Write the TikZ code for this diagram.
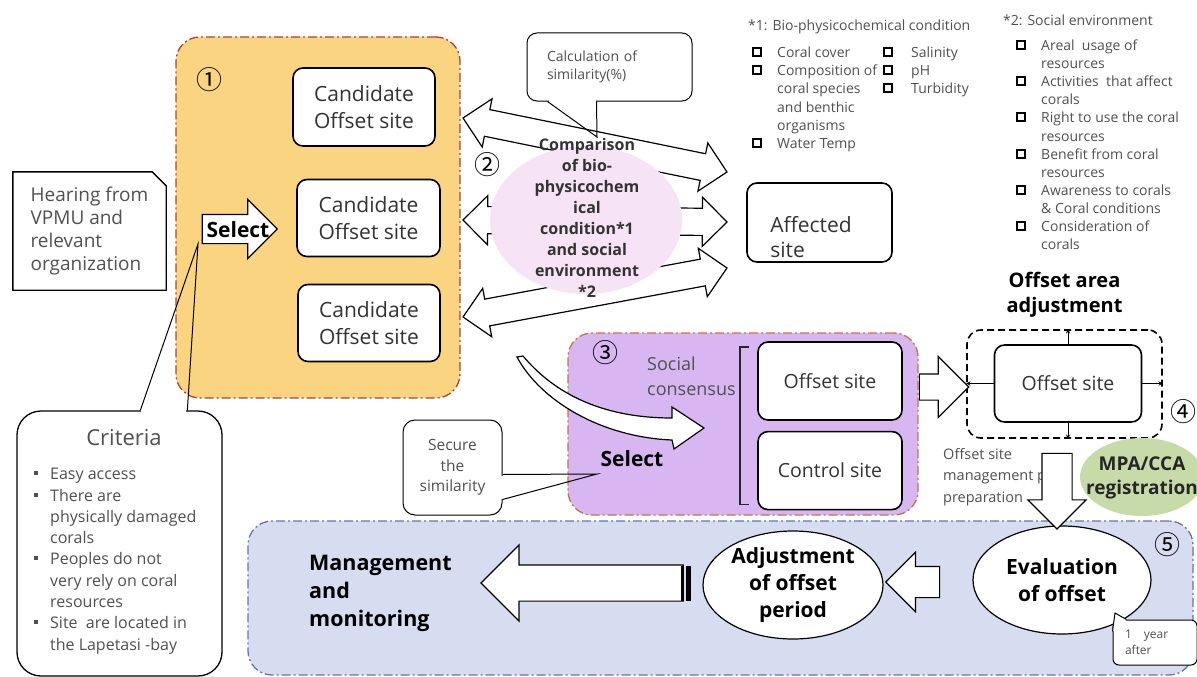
\documentclass[tikz,border=0pt]{standalone}
\usepackage{fontspec}
\setmainfont{Open Sans}
\newfontfamily\cjkfont{Noto Sans CJK JP}
\usepackage{xcolor}
\definecolor{stageyellow}{RGB}{250,212,128}
\definecolor{stageyellowline}{RGB}{165,70,58}
\definecolor{stagepurple}{RGB}{216,182,242}
\definecolor{stagepurpleline}{RGB}{196,116,66}
\definecolor{stageblue}{RGB}{215,221,240}
\definecolor{stageblueline}{RGB}{106,114,170}
\definecolor{comparepink}{RGB}{247,227,246}
\definecolor{mpagreen}{RGB}{199,219,168}
\definecolor{notegray}{RGB}{80,80,80}
\newcommand{\ncolor}{\color{notegray}}
\newcommand{\fsize}[2]{\fontsize{#1}{#2}\selectfont}
\newcommand{\stepnum}[1]{{\cjkfont\fsize{26}{26}#1}}
\usetikzlibrary{shapes.arrows,shapes.geometric,positioning,calc}
\newcommand{\blockarrow}[4][]{%
  \path let \p1=($(#4)-(#3)$), \n1={veclen(\x1,\y1)}, \n2={atan2(\y1,\x1)} in
    node[#1,minimum height=\n1,rotate=\n2] (#2) at ($(#3)!0.5!(#4)$) {};}
\tikzset{
	stage/.style={
		rectangle,
		rounded corners=24pt,
		line width=1.3pt,
		dash pattern=on 9pt off 3pt on 2pt off 3pt,
	},
	site/.style={
		rectangle,
		rounded corners=10pt,
		draw,
		line width=1.6pt,
		fill=white,
		align=center,
		inner sep=0pt,
		text=black!80,
	},
	areabox/.style={
		rectangle,
		rounded corners=14pt,
		draw,
		line width=1.6pt,
		dash pattern=on 7pt off 4pt,
	},
	note/.style={
		align=left,
		inner sep=0pt,
		font=\fsize{14.5}{18}\ncolor,
	},
	listtxt/.style={
		anchor=west,
		inner sep=0pt,
		text height=10.5pt,
		text depth=0pt,
		font=\fsize{14}{18}\ncolor,
	},
	sqmark/.style={
		rectangle,
		draw,
		line width=1.5pt,
		minimum size=8pt,
		inner sep=0pt,
	},
	dotmark/.style={
		rectangle,
		fill=notegray,
		minimum size=3.5pt,
		inner sep=0pt,
	},
	bubble/.style={
		rectangle,
		rounded corners=#1,
		draw,
		line width=1pt,
		fill=white,
		inner sep=0pt,
	},
	bubble/.default=10pt,
	pointer/.style={
		line width=1pt,
	},
	flatarrow/.style 2 args={
		single arrow,
		draw,
		line width=1.2pt,
		fill=white,
		inner sep=0pt,
		inner ysep=#1,
		single arrow head extend=#2,
	},
	dblarrow/.style 2 args={
		double arrow,
		draw,
		line width=1.2pt,
		fill=white,
		inner sep=0pt,
		inner ysep=#1,
		double arrow head extend=#2,
	},
	oval/.style={
		ellipse,
		draw,
		line width=1.2pt,
		fill=white,
		inner sep=0pt,
		align=center,
		font=\bfseries\fsize{21}{27},
	},
	link/.style={
		-stealth,
		line width=0.9pt,
	},
}

\begin{document}
\begin{tikzpicture}[x=1pt,y=-1pt,node distance=10pt]

\useasboundingbox (0,0) rectangle (1197,677);

\node[stage, fill=stageyellow, draw=stageyellowline, minimum width=284, minimum height=361] (step1) at (318,217.5) {};
\node[stage, fill=stagepurple, draw=stagepurpleline, minimum width=350, minimum height=182] (step3) at (743,424) {};
\node[stage, fill=stageblue, draw=stageblueline, minimum width=945, minimum height=154] (step5) at (720.5,598) {};

\node (num1) at (209,80) {\stepnum{①}};
\node[site, minimum width=142, minimum height=78, font=\fsize{21}{27}] (cand1) at (364,107) {Candidate\\Offset site};
\node[site, minimum width=143, minimum height=77, font=\fsize{21}{27}] (cand2) at (368.5,218) {Candidate\\Offset site};
\node[site, minimum width=142, minimum height=77, font=\fsize{21}{27}] (cand3) at (369,323) {Candidate\\Offset site};

\node[minimum width=153, minimum height=118, align=left, inner sep=0pt, font=\fsize{19}{23.3}\ncolor] (hear) at (89.5,231) {Hearing from\\VPMU and\\relevant\\organization};
\draw[line width=1.4pt] (hear.south west) -- (hear.north west) -- ($(hear.north east)+(-14,0)$) -- ($(hear.north east)+(0,14)$) -- (hear.south east) -- cycle;

\coordinate (selS) at (195,229);
\coordinate (selE) at (270,229);
\blockarrow[flatarrow={14pt}{15pt}]{sel1}{selS}{selE}
\node[font=\bfseries\fsize{21}{21}] (sel1txt) at (238,230) {Select};

\node[bubble=24pt, line width=1.3pt, minimum width=205, minimum height=265] (crit) at (119.5,543.5) {};
\coordinate (crittip) at (198,244);
\draw[white, line width=2.5pt] ($(crit.north west)+(125,0)$) -- ($(crit.north west)+(170,0)$);
\draw[pointer] ($(crit.north west)+(124,0)$) -- (crittip) -- ($(crit.north west)+(171,0)$);
\node[font=\fsize{22}{26}\ncolor] (crittitle) at (124,438) {Criteria};
\foreach \yy/\txt [count=\i] in {473/Easy access, 495/There are, 516/physically damaged, 537/corals, 558/Peoples do not, 580/very rely on coral, 601/resources, 622/Site\ \ are located in, 644/the Lapetasi -bay}
	\node[listtxt, text height=12pt, font=\fsize{16}{21}\ncolor] (crit\i) at (50,\yy) {\txt};
\foreach \yy [count=\i] in {473,495,558,622}
	\node[dotmark] (dot\i) at (36,\yy) {};

\foreach \i/\ly/\ry in {1/118/172, 2/220/222, 3/317/268}{
	\coordinate (cmpL\i) at (463,\ly);
	\coordinate (cmpR\i) at (727,\ry);
	\blockarrow[dblarrow={13pt}{11pt}]{cmparr\i}{cmpL\i}{cmpR\i}
}
\node[ellipse, fill=comparepink, minimum width=192, minimum height=148, inner sep=0pt] (cmp) at (586,220) {};
\node[align=center, inner sep=0pt, font=\bfseries\fsize{16}{21}\color{black!80}] (cmptxt) at (587,218) {Comparison\\of bio-\\physicochem\\ical\\condition*1\\and social\\environment\\*2};
\node (num2) at (487,165) {\stepnum{②}};

\node[bubble, minimum width=165, minimum height=68, text width=125, align=left, inner xsep=20pt, font=\fsize{14}{18}\ncolor] (calc) at (609.5,67) {Calculation of\\similarity(\%)};
\coordinate (calctip) at (597,137);
\draw[white, line width=2.5pt] ($(calc.south west)+(22,0)$) -- ($(calc.south west)+(69,0)$);
\draw[pointer] ($(calc.south west)+(21,0)$) -- (calctip) -- ($(calc.south west)+(70,0)$);

\node[site, minimum width=145, minimum height=79] (aff) at (819.5,222.5) {};
\node[anchor=west, align=left, inner sep=0pt, font=\fsize{21}{25}\color{black!80}] (afftxt) at ($(aff.west)+(24,15)$) {Affected\\site};

\node[listtxt] (biohead) at (748,25) {*1: Bio-physicochemical condition};
\foreach \yy/\txt [count=\i] in {52/Coral cover, 70/Composition of, 88/coral species, 107/and benthic, 125/organisms, 143/Water Temp}
	\node[listtxt] (bio\i) at (777,\yy) {\txt};
\foreach \yy/\txt [count=\i] in {52/Salinity, 70/pH, 88/Turbidity}
	\node[listtxt] (chem\i) at (911,\yy) {\txt};
\foreach \xx/\yy [count=\i] in {757/52, 757/70, 757/143, 888/52, 888/70, 888/88}
	\node[sqmark] (biosq\i) at (\xx,\yy) {};

\node[listtxt] (sochead) at (1003,20) {*2: Social environment};
\foreach \yy/\txt [count=\i] in {45/Areal\ \ usage of, 63/resources, 81/Activities\ \ that affect, 99/corals, 117/Right to use the coral, 136/resources, 154/Benefit from coral, 172/resources, 190/Awareness to corals, 208/\& Coral conditions, 226/Consideration of, 244/corals}
	\node[listtxt] (soc\i) at (1041,\yy) {\txt};
\foreach \yy [count=\i] in {45,81,117,154,190,226}
	\node[sqmark] (socsq\i) at (1021,\yy) {};

\node (num3) at (605,353) {\stepnum{③}};
\node[note, anchor=west, font=\fsize{18}{25}\ncolor] (social) at (647,376) {Social\\consensus};
\node[site, minimum width=144, minimum height=78, font=\fsize{19.5}{24}] (off1) at (830,381) {Offset site};
\node[site, minimum width=144, minimum height=78, font=\fsize{19.5}{24}, below=of off1] (ctrl) {Control site};
\draw[line width=1.6pt, draw=black!85] ($(off1.north west)+(-8,6)$) -- ($(off1.north west)+(-17,6)$) -- ($(ctrl.south west)+(-17,-6)$) -- ($(ctrl.south west)+(-8,-6)$);
\draw[line width=1.2pt, fill=white] (517,357) .. controls (540,400) and (600,437) .. (672,440) -- (674,449) -- (704,428) -- (672,407) -- (672,418) .. controls (612,418) and (560,400) .. (523,356) -- cycle;
\node[font=\bfseries\fsize{21}{21}] (sel3txt) at (632,459) {Select};

\node[bubble=12pt, minimum width=99, minimum height=95, align=center, font=\fsize{15.5}{20.5}\ncolor] (sec) at (452.5,467.5) {Secure\\the\\similarity};
\coordinate (sectip) at (597,474);
\draw[white, line width=2.5pt] ($(sec.north east)+(0,56)$) -- ($(sec.north east)+(0,79)$);
\draw[pointer] ($(sec.north east)+(0,55)$) -- (sectip) -- ($(sec.north east)+(0,80)$);

\node[areabox, minimum width=195, minimum height=108] (area) at (1064.5,384) {};
\node[site, minimum width=147, minimum height=77, font=\fsize{19.5}{24}] (off2) at (1068,383.5) {Offset site};
\draw[link] (off2.west) -- (off2.west -| area.west);
\draw[link] (off2.east) -- (off2.east -| area.east);
\draw[link] (off2.north) -- (off2.north |- area.north);
\draw[link] (off2.south) -- (off2.south |- area.south);
\node[align=center, inner sep=0pt, font=\bfseries\fsize{20}{25}, above=12pt of area] (arealbl) {Offset area\\adjustment};
\coordinate (conS) at ($(off1.east)+(10,6)$);
\coordinate (conE) at ($(area.west)+(-4,3)$);
\blockarrow[flatarrow={12.5pt}{17.5pt}]{conarr}{conS}{conE}
\node (num4) at (1183,412) {\stepnum{④}};

\node[ellipse, fill=mpagreen, minimum width=124, minimum height=78, inner sep=0pt] (mpa) at (1142,477) {};
\node[align=center, inner sep=0pt, font=\bfseries\fsize{19}{24}\color{black!85}] (mpatxt) at (1142,478) {MPA/CCA\\registration};
\node[note, anchor=west, font=\fsize{14.5}{21.5}\ncolor] (prep) at (943,477) {Offset site\\management plan\\preparation};

\node[oval, minimum width=178, minimum height=108] (eval) at (1062,580) {Evaluation\\of offset};
\node[oval, minimum width=180, minimum height=108] (period) at (793,585) {Adjustment\\of offset\\period};
\coordinate (dnS) at ($(area.south)+(-7.5,7)$);
\coordinate (dnE) at ($(eval.north)+(-5,-4)$);
\blockarrow[flatarrow={14.5pt}{14pt}]{dnarr}{dnS}{dnE}
\node (num5) at (1167,545) {\stepnum{⑤}};

\coordinate (evS) at ($(eval.west)+(-25,2)$);
\coordinate (evE) at ($(period.east)+(10,-3)$);
\blockarrow[flatarrow={15pt}{14pt}]{evarr}{evS}{evE}
\coordinate (mgS) at ($(period.west)+(-10,-2)$);
\coordinate (mgE) at (490,583);
\blockarrow[flatarrow={17.5pt}{20pt}]{mgarr}{mgS}{mgE}
\draw[line width=2pt] ($(mgS)+(-10,-17.5)$) -- ($(mgS)+(-10,17.5)$);
\draw[line width=5pt] ($(mgS)+(-3.5,-17.5)$) -- ($(mgS)+(-3.5,17.5)$);
\node[anchor=west, align=left, inner sep=0pt, font=\bfseries\fsize{21.5}{28}] (mgmt) at (309,593) {Management\\and\\monitoring};

\node[bubble=6pt, minimum width=84, minimum height=45, text width=60, inner xsep=12pt, align=left, font=\fsize{12}{16}\ncolor] (yr) at (1155,642.5) {1\quad year\\after};
\coordinate (yrtip) at (1115,613);
\fill[white] ($(yr.north west)+(0.8,12)$) -- ($(yr.north west)+(0.8,0.8)$) -- ($(yr.north west)+(14,0.8)$) -- cycle;
\draw[pointer, fill=white] ($(yr.north west)+(0,12)$) -- (yrtip) -- ($(yr.north west)+(14,0)$);

\end{tikzpicture}
\end{document}
